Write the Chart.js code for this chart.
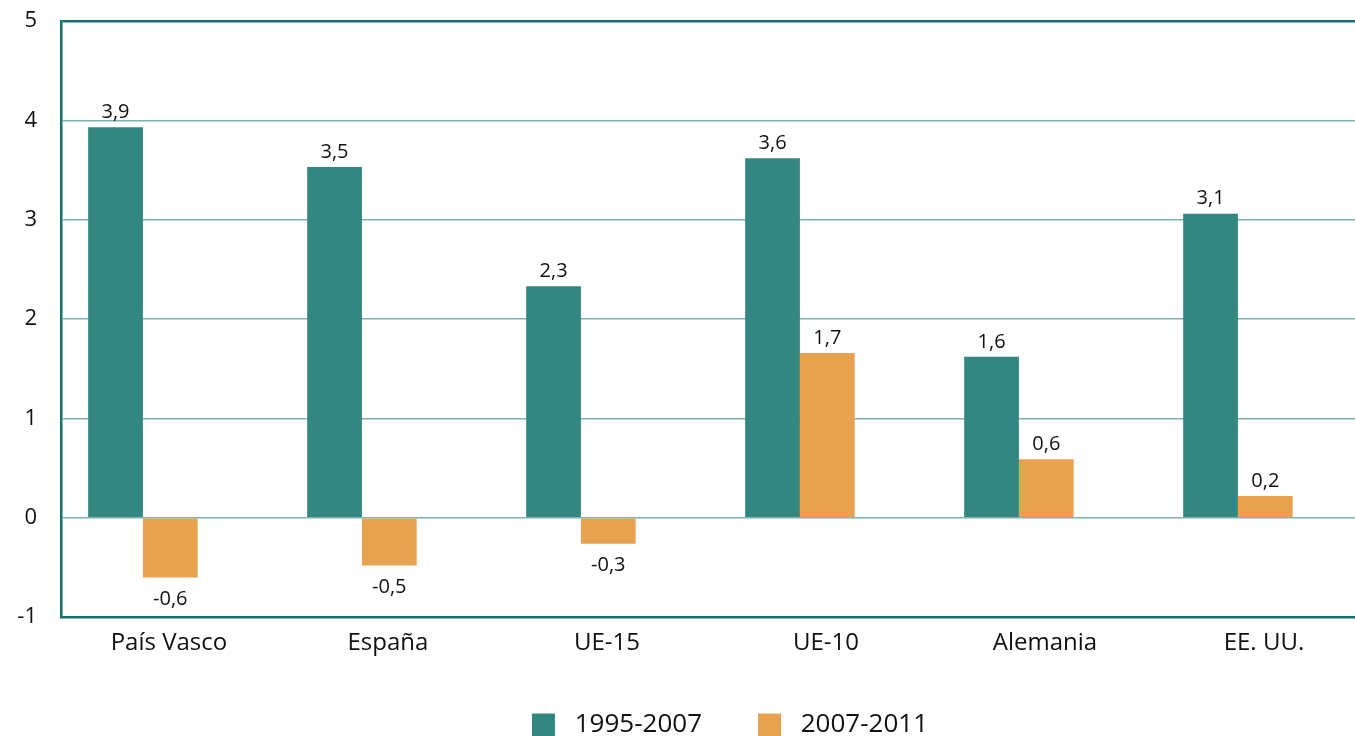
<!DOCTYPE html>
<html>
<head>
<meta charset="utf-8">
<script src="https://cdn.jsdelivr.net/npm/chart.js@4"></script>
<style>
  html, body { margin: 0; padding: 0; background: #fff; overflow: hidden; }
  #wrap { position: absolute; left: 0; top: 0; width: 1460px; height: 748px; }
</style>
</head>
<body>
<div id="wrap"><canvas id="chart"></canvas></div>
<script>
// Chart data
const categories = ["País Vasco", "España", "UE-15", "UE-10", "Alemania", "EE. UU."];
const series1995 = [3.93, 3.53, 2.33, 3.62, 1.62, 3.06];
const series2007 = [-0.6, -0.48, -0.26, 1.66, 0.59, 0.22];
const seriesNames = ["1995-2007", "2007-2011"];
const yTicks = [-1, 0, 1, 2, 3, 4, 5];

const TEAL = "#348681";
const ORANGE = "#e8a24f";
const GRID = "#7db3b0";
const BORDER = "#17706b";
const FONT = "'Open Sans', 'Noto Sans', sans-serif";

// Value labels over / under each bar, comma decimals
const valueLabels = {
  id: "valueLabels",
  afterDatasetsDraw(chart) {
    const ctx = chart.ctx;
    ctx.save();
    ctx.font = "20px " + FONT;
    ctx.fillStyle = "#111";
    ctx.textAlign = "center";
    chart.data.datasets.forEach((ds, di) => {
      chart.getDatasetMeta(di).data.forEach((bar, i) => {
        const v = ds.data[i].y;
        const txt = v.toFixed(1).replace(".", ",");
        if (v >= 0) {
          ctx.textBaseline = "bottom";
          ctx.fillText(txt, bar.x, bar.y - 5);
        } else {
          ctx.textBaseline = "top";
          ctx.fillText(txt, bar.x, bar.y + 12);
        }
      });
    });
    ctx.restore();
  },
};

new Chart(document.getElementById("chart"), {
  type: "bar",
  data: {
    datasets: [
      {
        label: seriesNames[0],
        data: series1995.map((v, i) => ({ x: i, y: v })),
        backgroundColor: TEAL,
      },
      {
        label: seriesNames[1],
        data: series2007.map((v, i) => ({ x: i, y: v })),
        backgroundColor: ORANGE,
      },
    ],
  },
  options: {
    responsive: true,
    maintainAspectRatio: false,
    animation: false,
    categoryPercentage: 0.5,
    barPercentage: 1.0,
    layout: { padding: { top: 21, left: 0, right: 0, bottom: 0 } },
    plugins: {
      legend: {
        position: "bottom",
        labels: {
          boxWidth: 23,
          boxHeight: 23,
          padding: 56,
          color: "#111",
          font: { family: FONT, size: 26 },
          generateLabels: (chart) =>
            Chart.defaults.plugins.legend.labels.generateLabels(chart).map((l) => {
              l.text = " " + l.text;
              return l;
            }),
        },
      },
      tooltip: { enabled: false },
    },
    scales: {
      x: {
        type: "linear",
        offset: false,
        min: -0.374,
        max: 6.014,
        afterBuildTicks: (s) => { s.ticks = categories.map((c, i) => ({ value: i })); },
        afterFit: (s) => { s.height -= 14; },
        grid: { display: false, drawTicks: false, offset: false },
        border: { display: true, color: BORDER, width: 2.5 },
        ticks: {
          callback: (v) => categories[v],
          labelOffset: 26,
          padding: 12,
          color: "#111",
          font: { family: FONT, size: 24 },
          maxRotation: 0,
          autoSkip: false,
        },
      },
      y: {
        min: -1,
        max: 5,
        afterBuildTicks: (s) => { s.ticks = yTicks.map((v) => ({ value: v })); },
        afterFit: (s) => {
          s.width = 61;
          s.paddingTop = 0;
          s.paddingBottom = 0;
        },
        grid: {
          drawTicks: false,
          color: (c) => (c.tick.value === 5 ? BORDER : GRID),
          lineWidth: (c) => (c.tick.value === 5 ? 2.5 : 1.5),
        },
        border: { display: true, color: BORDER, width: 2.5 },
        ticks: {
          padding: 24,
          color: "#111",
          font: { family: FONT, size: 22 },
        },
      },
    },
  },
  plugins: [valueLabels],
});
</script>
</body>
</html>
